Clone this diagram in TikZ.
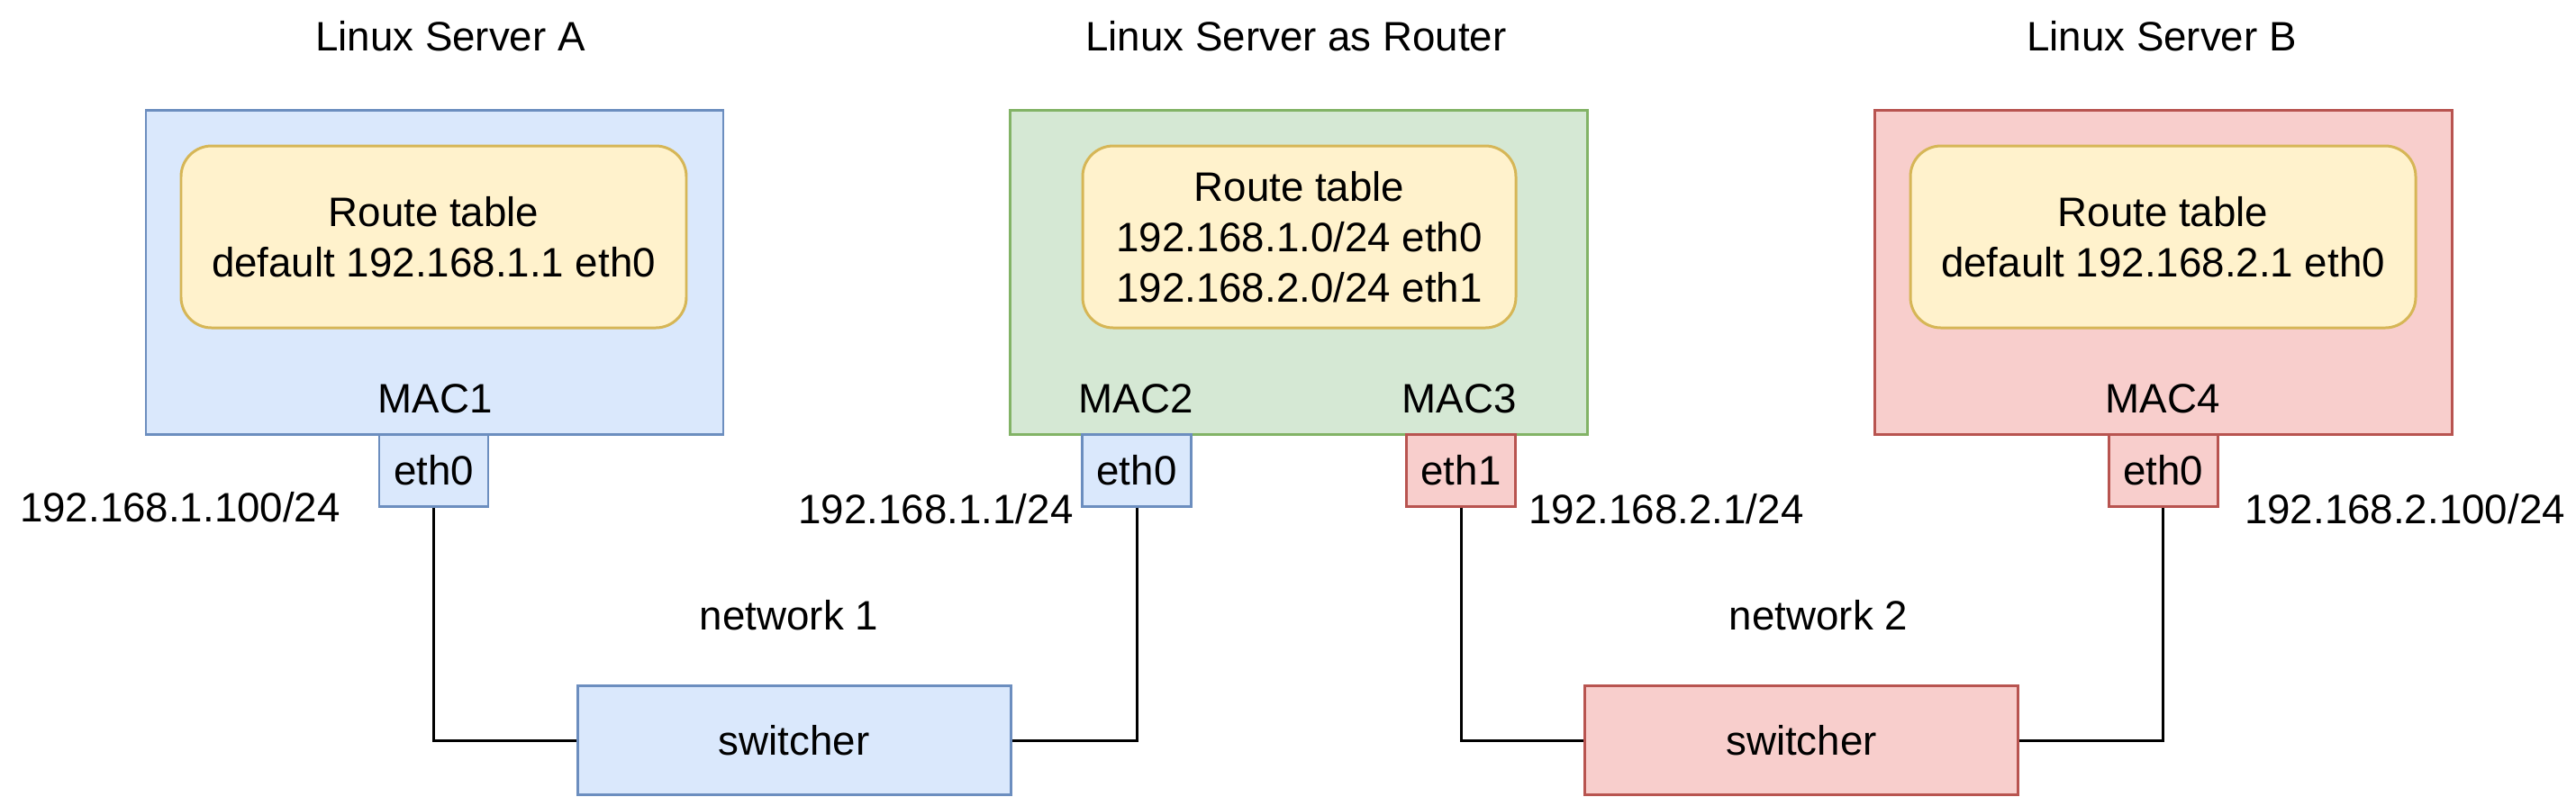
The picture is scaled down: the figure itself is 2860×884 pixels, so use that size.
\documentclass[tikz,border=0pt]{standalone}
\usepackage{fontspec}
\setmainfont{Liberation Sans}
\usepackage{xcolor}
\usetikzlibrary{positioning}
\definecolor{bluefill}{HTML}{DAE8FC}
\definecolor{bluedraw}{HTML}{6C8EBF}
\definecolor{greenfill}{HTML}{D5E8D4}
\definecolor{greendraw}{HTML}{82B366}
\definecolor{redfill}{HTML}{F8CECC}
\definecolor{reddraw}{HTML}{B85450}
\definecolor{yellowfill}{HTML}{FFF2CC}
\definecolor{yellowdraw}{HTML}{D6B656}
\begin{document}
\begin{tikzpicture}[x=0.1mm,y=-0.1mm,line width=0.85pt,
  every node/.style={font=\fontsize{13}{15.9}\selectfont,inner sep=0pt,align=center},
  server/.style={draw,minimum width=64.1mm,minimum height=36mm},
  table/.style={draw=yellowdraw,fill=yellowfill,rounded corners=3.4mm,minimum height=20.2mm},
  port/.style={draw,minimum width=12.1mm,minimum height=8mm},
  switcher/.style={draw=bluedraw,fill=bluefill,minimum width=48.1mm,minimum height=12.1mm},
  wire/.style={black,line width=0.85pt}]
\useasboundingbox(0,0)rectangle(2860,884);
% servers
\node[server,draw=bluedraw,fill=bluefill](srvA)at(482.5,302){};
\node[server,draw=greendraw,fill=greenfill](srvR)at(1441.5,302){};
\node[server,draw=reddraw,fill=redfill](srvB)at(2401.5,302){};
\node(titleA)at(500,40){Linux Server A};
\node(titleR)at(1439,40){Linux Server as Router};
\node(titleB)at(2400,40){Linux Server B};
% route tables
\node[table,minimum width=56.1mm](rtA)at(481.5,263){Route table\\default 192.168.1.1 eth0};
\node[table,minimum width=48.1mm](rtR)at(1442.5,263){Route table\\192.168.1.0/24 eth0\\192.168.2.0/24 eth1};
\node[table,minimum width=56.1mm](rtB)at(2401.5,263){Route table\\default 192.168.2.1 eth0};
% mac labels
\node(mac1)at(483,443){MAC1};
\node(mac2)at(1261,443){MAC2};
\node(mac3)at(1620,443){MAC3};
\node(mac4)at(2401,443){MAC4};
% ports
\node[port,draw=bluedraw,fill=bluefill](ethA)at(481.5,522){eth0};
\node[port,draw=bluedraw,fill=bluefill](ethR0)at(1262,522){eth0};
\node[port,draw=reddraw,fill=redfill](ethR1)at(1622,522){eth1};
\node[port,draw=reddraw,fill=redfill](ethB)at(2401.5,522){eth0};
\node(ipA)at(200,563){192.168.1.100/24};
\node(ipR0)at(1039,565){192.168.1.1/24};
\node(ipR1)at(1850,565){192.168.2.1/24};
\node(ipB)at(2670,565){192.168.2.100/24};
% networks
\node(net1)at(876,683){network 1};
\node(net2)at(2019,683){network 2};
\node[switcher](sw1)at(881.5,822){switcher};
\node[switcher,draw=reddraw,fill=redfill](sw2)at(2000,822){switcher};
\draw[wire](ethA.south)|-(sw1.west);
\draw[wire](ethR0.south)|-(sw1.east);
\draw[wire](ethR1.south)|-(sw2.west);
\draw[wire](ethB.south)|-(sw2.east);
\end{tikzpicture}
\end{document}
